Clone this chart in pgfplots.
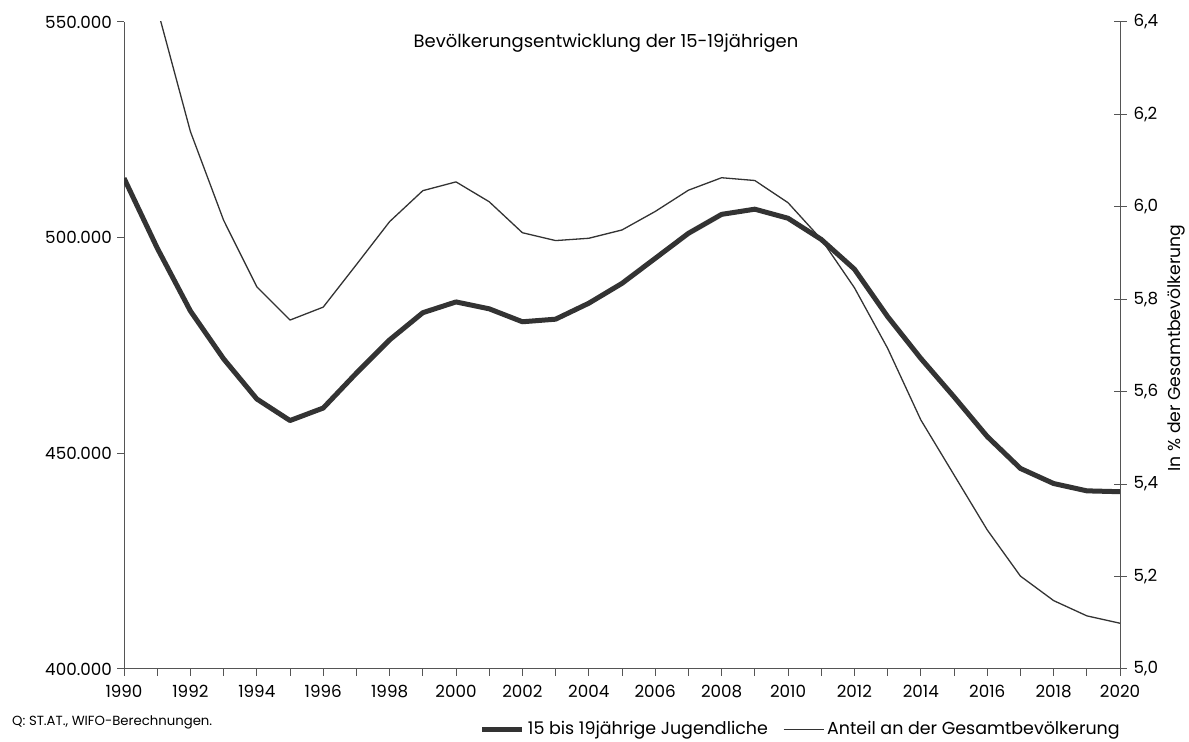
\documentclass[border=0pt]{standalone}
\usepackage{fontspec}
\setmainfont{Poppins}
\usepackage{pgfplots}
\pgfplotsset{compat=1.18}
\definecolor{dline}{HTML}{333333}
\definecolor{axisc}{HTML}{555555}
\pgfplotstableread{
year pop
1990 513800
1991 497600
1992 483000
1993 471900
1994 462600
1995 457600
1996 460500
1997 468600
1998 476300
1999 482600
2000 485100
2001 483500
2002 480500
2003 481100
2004 484800
2005 489400
2006 495200
2007 501000
2008 505400
2009 506600
2010 504500
2011 499600
2012 492700
2013 481700
2014 472000
2015 463100
2016 453900
2017 446500
2018 443000
2019 441300
2020 441100
}\popdata
\pgfplotstableread{
year share
1990 6.70
1991 6.43
1992 6.163
1993 5.971
1994 5.827
1995 5.755
1996 5.783
1997 5.875
1998 5.968
1999 6.035
2000 6.054
2001 6.011
2002 5.944
2003 5.927
2004 5.932
2005 5.950
2006 5.990
2007 6.036
2008 6.063
2009 6.057
2010 6.009
2011 5.930
2012 5.825
2013 5.694
2014 5.539
2015 5.420
2016 5.301
2017 5.201
2018 5.148
2019 5.115
2020 5.099
}\sharedata
\begin{document}
\fontsize{15}{18}\selectfont
\begin{tikzpicture}[x=1bp,y=1bp]
\useasboundingbox (0,0) rectangle (1189,742);
\begin{axis}[
  at={(124bp,73bp)}, anchor=south west, scale only axis,
  width=996bp, height=647bp,
  xmin=1990, xmax=2020, ymin=400000, ymax=550000,
  axis x line*=bottom, axis y line*=left,
  axis line style={-, axisc, line width=1bp},
  tick style={axisc, line width=1bp},
  tick align=outside,
  major tick length=7bp, minor tick length=7bp,
  xtick={1990,1992,...,2020}, minor xtick={1991,1993,...,2019},
  ytick={400000,450000,500000,550000},
  scaled y ticks=false,
  /pgf/number format/assume math mode=true,
  xticklabel style={/pgf/number format/fixed, /pgf/number format/1000 sep={}, yshift=-4bp},
  yticklabel style={/pgf/number format/fixed, /pgf/number format/1000 sep={.}, xshift=0bp},
  ticklabel style={font=\fontsize{16.8}{19}\selectfont, text=black},
]
\addplot[dline, line width=5bp, line join=round] table[x=year,y=pop]{\popdata};
\end{axis}
\begin{axis}[
  at={(124bp,73bp)}, anchor=south west, scale only axis,
  width=996bp, height=647bp,
  xmin=1990, xmax=2020, ymin=5.0, ymax=6.4,
  axis x line=none, axis y line*=right,
  axis line style={-, axisc, line width=1bp},
  tick style={axisc, line width=1bp},
  tick align=center, major tick length=13bp,
  ytick={5.0,5.2,5.4,5.6,5.8,6.0,6.2,6.4},
  /pgf/number format/assume math mode=true,
  yticklabel style={/pgf/number format/fixed, /pgf/number format/fixed zerofill, /pgf/number format/precision=1, /pgf/number format/use comma, xshift=2bp},
  ticklabel style={font=\fontsize{16.8}{19}\selectfont, text=black},
  ylabel={In \% der Gesamtbevölkerung},
  every axis y label/.style={at={(axis description cs:1.0562,0.496)}, rotate=90, anchor=center, inner sep=0pt, font=\fontsize{17.3}{19}\selectfont},
  legend columns=2,
  legend style={at={(axis description cs:0.680,-0.093)}, anchor=center, draw=none, fill=none,
    font=\fontsize{17.5}{20}\selectfont,
    /tikz/every even column/.append style={column sep=12bp},
    nodes={inner xsep=3bp, inner ysep=1bp}},
  legend image code/.code={\draw[#1] (0bp,0bp) -- (40bp,0bp);},
]
\addlegendimage{dline, line width=5bp}
\addlegendentry{15 bis 19jährige Jugendliche}
\addplot[dline, line width=1.3bp, line join=round] table[x=year,y=share]{\sharedata};
\addlegendentry{Anteil an der Gesamtbevölkerung}
\end{axis}
\node[font=\fontsize{18}{21}\selectfont] at (606,699) {Bevölkerungsentwicklung der 15-19jährigen};
\node[anchor=west, font=\fontsize{13.3}{15}\selectfont, inner sep=0pt] at (12,20) {Q: ST.AT., WIFO-Berechnungen.};
\end{tikzpicture}
\end{document}
